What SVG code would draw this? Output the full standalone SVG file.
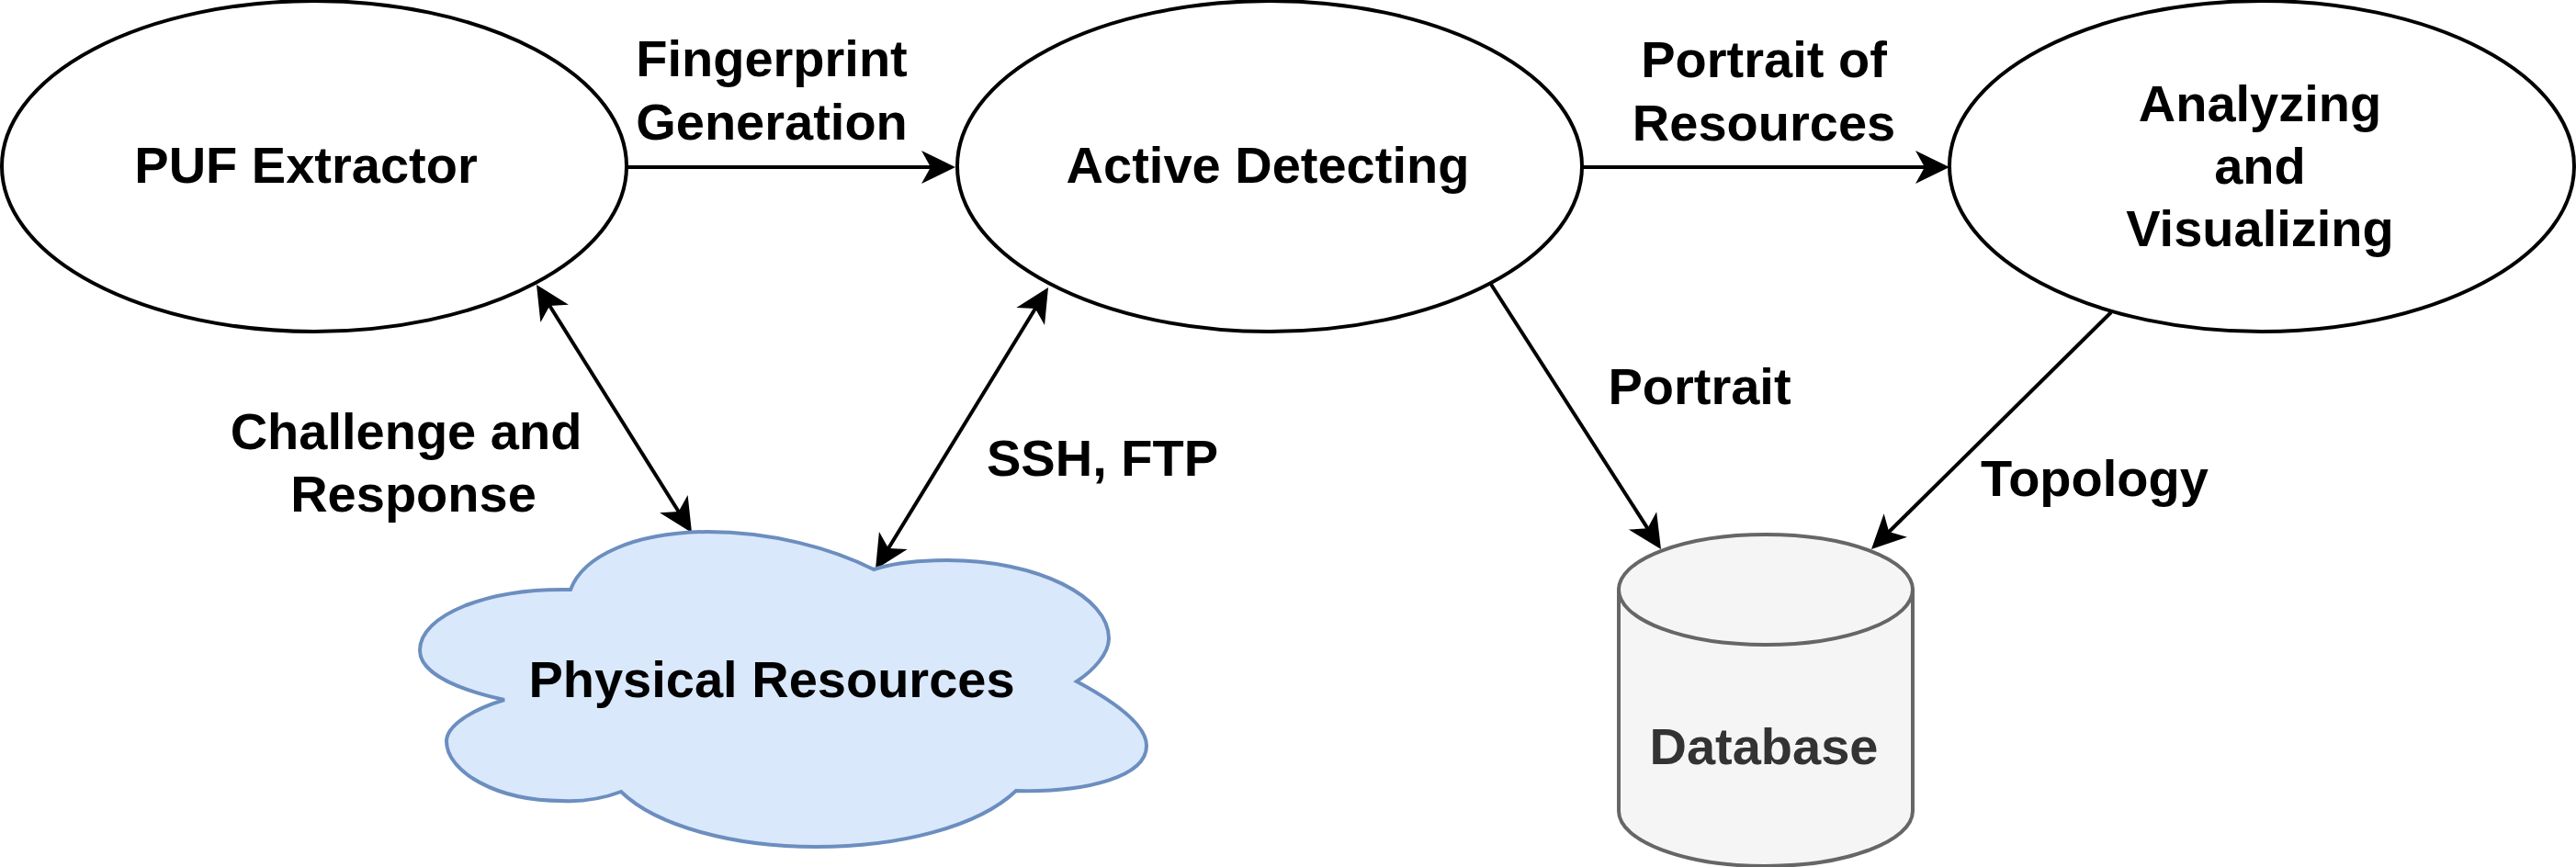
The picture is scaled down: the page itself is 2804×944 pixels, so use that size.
<svg xmlns="http://www.w3.org/2000/svg" width="2804" height="944" viewBox="0 0 2804 944">
<style>
text{font-family:"Liberation Sans",Arial,sans-serif;font-weight:700;font-size:56px;fill:#000;text-anchor:middle}
.n{fill:#fff;stroke:#000;stroke-width:4}
.c{fill:none;stroke:#000;stroke-width:4}
.cyl{fill:#f5f5f5;stroke:#666;stroke-width:4}
</style>
<defs>
<marker id="arrow" markerUnits="userSpaceOnUse" markerWidth="38" markerHeight="38" viewBox="0 0 38 38" refX="28" refY="19" orient="auto-start-reverse">
<path d="M38,19L1,1L11,19L1,37Z" fill="#000"/>
</marker>
</defs>
<rect width="2804" height="944" fill="#fff"/>
<g id="connectors">
<line class="c" x1="683" y1="182" x2="1030" y2="182" marker-end="url(#arrow)"/>
<line class="c" x1="1722" y1="182" x2="2112" y2="182" marker-end="url(#arrow)"/>
<line class="c" x1="589.3" y1="318.5" x2="747.7" y2="571.5" marker-start="url(#arrow)" marker-end="url(#arrow)"/>
<line class="c" x1="1135.8" y1="321.5" x2="958.2" y2="611.5" marker-start="url(#arrow)" marker-end="url(#arrow)"/>
<line class="c" x1="1622" y1="308" x2="1802.6" y2="589.6" marker-end="url(#arrow)"/>
<line class="c" x1="2298" y1="340" x2="2044.1" y2="591" marker-end="url(#arrow)"/>
</g>
<g id="puf-extractor">
<ellipse class="n" cx="342" cy="181" rx="340" ry="180"/>
<text x="333" y="199">PUF Extractor</text>
</g>
<g id="active-detecting">
<ellipse class="n" cx="1382" cy="181" rx="340" ry="180"/>
<text x="1380" y="199">Active Detecting</text>
</g>
<g id="analyzing">
<ellipse class="n" cx="2462" cy="181" rx="340" ry="180"/>
<text x="2460" y="132">Analyzing</text>
<text x="2460" y="200">and</text>
<text x="2460" y="268">Visualizing</text>
</g>
<g id="physical-resources">
<path d="M621,642C635,605 690,580 770,579C840,579 905,597 951,620C975,612 1000,610 1031,610C1130,610 1207,650 1207,695C1207,712 1190,730 1172,742C1215,765 1248,790 1248,812C1248,845 1185,863 1106,861C1065,900 980,922 888,922C800,922 715,900 676,862C655,870 635,873 612,872C540,872 486,840 486,807C486,790 515,772 549,762C495,750 457,732 457,708C457,670 530,640 621,642Z" fill="#dae8fc" stroke="#6c8ebf" stroke-width="4"/>
<text x="840" y="759">Physical Resources</text>
</g>
<g id="database">
<path class="cyl" d="M1762,642V883C1762,916 1834,943 1922,943C2010,943 2082,916 2082,883V642Z"/>
<ellipse class="cyl" cx="1922" cy="642" rx="160" ry="60"/>
<text x="1920" y="832" style="fill:#333">Database</text>
</g>
<g id="labels">
<text x="840" y="83">Fingerprint</text>
<text x="840" y="152">Generation</text>
<text x="1920" y="84">Portrait of</text>
<text x="1920" y="153">Resources</text>
<text x="442" y="489">Challenge and</text>
<text x="450" y="557">Response</text>
<text x="1200" y="518">SSH, FTP</text>
<text x="1850" y="440">Portrait</text>
<text x="2280" y="540">Topology</text>
</g>
</svg>
